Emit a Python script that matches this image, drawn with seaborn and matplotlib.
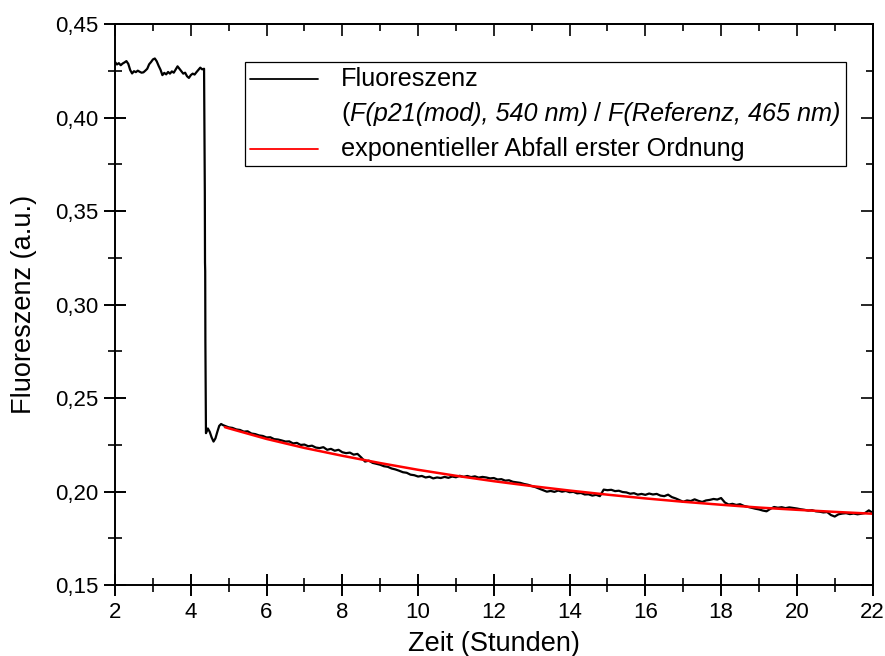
import numpy as np
import matplotlib
matplotlib.use("Agg")
import matplotlib.pyplot as plt
from matplotlib.lines import Line2D
from matplotlib.ticker import MultipleLocator, FuncFormatter
from matplotlib.offsetbox import (AnchoredOffsetbox, VPacker, HPacker,
                                  TextArea, DrawingArea)
import seaborn as sns

# Fluorescence trace before the drop (every 0.05 h from 2.00 to 4.35 h)
t_before = np.round(np.arange(2.0, 4.351, 0.05), 2)
f_before = [0.4298, 0.4285, 0.4292, 0.4281, 0.4290, 0.4296, 0.4303, 0.4288, 0.4255, 0.4237,
            0.4249, 0.4244, 0.4252, 0.4246, 0.4241, 0.4243, 0.4252, 0.4262, 0.4286, 0.4298,
            0.4312, 0.4317, 0.4302, 0.4278, 0.4257, 0.4228, 0.4240, 0.4232, 0.4245, 0.4236,
            0.4248, 0.4241, 0.4258, 0.4275, 0.4262, 0.4249, 0.4236, 0.4241, 0.4222, 0.4213,
            0.4228, 0.4236, 0.4231, 0.4244, 0.4256, 0.4268, 0.4259, 0.4262]

# The drop and the short settling phase
t_drop = [4.37, 4.375, 4.38, 4.385, 4.40, 4.45, 4.50, 4.55, 4.60, 4.65, 4.70, 4.75, 4.80, 4.85]
f_drop = [0.3600, 0.3225, 0.3180, 0.2800, 0.2313, 0.2338, 0.2320, 0.2290, 0.2268, 0.2285,
          0.2320, 0.2352, 0.2362, 0.2356]

# Slow decay phase (every 0.1 h from 4.9 to 22.0 h)
t_after = np.round(np.arange(4.9, 22.001, 0.1), 1)
f_after = [0.2352,
           0.2344, 0.2341, 0.2333, 0.2330, 0.2321, 0.2323, 0.2311, 0.2308, 0.2301, 0.2298,
           0.2290, 0.2291, 0.2281, 0.2279, 0.2274, 0.2268, 0.2269, 0.2258, 0.2261, 0.2250,
           0.2252, 0.2243, 0.2246, 0.2236, 0.2233, 0.2238, 0.2224, 0.2229, 0.2219, 0.2224,
           0.2211, 0.2206, 0.2209, 0.2198, 0.2202, 0.2183, 0.2161, 0.2166, 0.2154, 0.2149,
           0.2144, 0.2136, 0.2133, 0.2124, 0.2119, 0.2112, 0.2104, 0.2101, 0.2091, 0.2088,
           0.2081, 0.2084, 0.2076, 0.2080, 0.2071, 0.2076, 0.2073, 0.2079, 0.2074, 0.2081,
           0.2077, 0.2085, 0.2079, 0.2084, 0.2078, 0.2082, 0.2075, 0.2079, 0.2076, 0.2071,
           0.2073, 0.2065, 0.2067, 0.2059, 0.2061, 0.2053, 0.2050, 0.2047, 0.2041, 0.2037,
           0.2030, 0.2024, 0.2016, 0.2008, 0.2000, 0.2004, 0.1999, 0.2006, 0.2000, 0.2004,
           0.1997, 0.1999, 0.1991, 0.1993, 0.1985, 0.1986, 0.1979, 0.1983, 0.1976, 0.2011,
           0.2008, 0.2010, 0.2003, 0.2005, 0.1998, 0.1996, 0.1989, 0.1992, 0.1984, 0.1988,
           0.1983, 0.1990, 0.1985, 0.1988, 0.1979, 0.1976, 0.1984, 0.1971, 0.1964, 0.1955,
           0.1946, 0.1953, 0.1950, 0.1959, 0.1951, 0.1945, 0.1953, 0.1956, 0.1961, 0.1958,
           0.1966, 0.1942, 0.1931, 0.1935, 0.1929, 0.1933, 0.1924, 0.1919, 0.1914, 0.1909,
           0.1905, 0.1899, 0.1895, 0.1908, 0.1918, 0.1914, 0.1917, 0.1912, 0.1916, 0.1913,
           0.1910, 0.1906, 0.1903, 0.1899, 0.1901, 0.1895, 0.1893, 0.1889, 0.1891, 0.1875,
           0.1867, 0.1879, 0.1883, 0.1885, 0.1880, 0.1883, 0.1879, 0.1882, 0.1886, 0.1900,
           0.1887]

# First-order exponential decay fit
t_fit = [4.9, 5, 6, 7, 8, 9, 10, 11, 12, 13, 14, 15, 16, 17, 18, 19, 20, 21, 22]
f_fit = [0.2345, 0.2339, 0.2282, 0.2234, 0.2192, 0.2153, 0.2117, 0.2085, 0.2056, 0.2030,
         0.2006, 0.1984, 0.1964, 0.1946, 0.1930, 0.1915, 0.1903, 0.1892, 0.1882]

x_ticks = [2, 4, 6, 8, 10, 12, 14, 16, 18, 20, 22]
y_ticks = [0.15, 0.20, 0.25, 0.30, 0.35, 0.40, 0.45]

label_trace = "Fluoreszenz"
label_ratio_num = "F(p21(mod), 540 nm)"
label_ratio_den = "F(Referenz, 465 nm)"
label_fit = "exponentieller Abfall erster Ordnung"

sns.set_style("white")
plt.rcParams["font.family"] = ["Liberation Sans", "DejaVu Sans"]
plt.rcParams["text.color"] = "black"
plt.rcParams["axes.labelcolor"] = "black"

t_all = np.concatenate([t_before, t_drop, t_after])
f_all = np.concatenate([f_before, f_drop, f_after])

fig = plt.figure(figsize=(8.85, 6.56), dpi=100)
ax = fig.add_axes([0.130, 0.108, 0.856, 0.855])

sns.lineplot(x=t_all, y=f_all, ax=ax, color="black", lw=1.6, sort=False,
             estimator=None, legend=False)
sns.lineplot(x=t_fit, y=f_fit, ax=ax, color="#ff0000", lw=1.8, sort=False,
             estimator=None, legend=False)

ax.set_xlim(x_ticks[0], x_ticks[-1])
ax.set_ylim(y_ticks[0], y_ticks[-1])
ax.set_xticks(x_ticks)
ax.set_yticks(y_ticks)
ax.xaxis.set_minor_locator(MultipleLocator(1))
ax.yaxis.set_minor_locator(MultipleLocator(0.025))
ax.xaxis.set_major_formatter(FuncFormatter(lambda v, p: f"{v:.0f}"))
ax.yaxis.set_major_formatter(FuncFormatter(lambda v, p: f"{v:.2f}".replace(".", ",")))

for s in ax.spines.values():
    s.set_linewidth(1.4)
    s.set_color("black")

ax.tick_params(which="major", direction="inout", length=16.5, width=1.4,
               labelsize=16, colors="black", pad=4, top=False, right=False)
ax.tick_params(which="minor", direction="inout", length=9.5, width=1.4,
               top=False, right=False)
ax.tick_params(axis="x", which="both", bottom=True)
ax.tick_params(axis="y", which="both", left=True)

# Inward ticks on the top and right frame edges
secx = ax.secondary_xaxis("top")
secx.set_xticks(x_ticks)
secx.xaxis.set_minor_locator(MultipleLocator(1))
secx.tick_params(which="major", direction="in", length=8.6, width=1.4, labeltop=False)
secx.tick_params(which="minor", direction="in", length=4.7, width=1.4)
secx.spines["top"].set_linewidth(1.4)
secy = ax.secondary_yaxis("right")
secy.set_yticks(y_ticks)
secy.yaxis.set_minor_locator(MultipleLocator(0.025))
secy.tick_params(which="major", direction="in", length=8.6, width=1.4, labelright=False)
secy.tick_params(which="minor", direction="in", length=4.7, width=1.4)
secy.spines["right"].set_linewidth(1.4)

ax.set_xlabel("Zeit (Stunden)", fontsize=19.5, labelpad=6, color="black")
ax.set_ylabel("Fluoreszenz (a.u.)", fontsize=19.5, labelpad=13, color="black")

# Legend box: three rows, the middle one mixes upright and italic text
fs = 18.2
handle_w, handle_h = 49, 12


def handle(color):
    da = DrawingArea(handle_w, handle_h, 0, 0)
    if color is not None:
        da.add_artist(Line2D([0, handle_w], [handle_h / 2, handle_h / 2],
                             color=color, lw=1.3))
    return da


def text(s, style="normal"):
    return TextArea(s, textprops=dict(fontsize=fs, style=style, color="black"))


row1 = HPacker(children=[handle("black"), text(label_trace)], sep=16.5, align="center")
ratio = HPacker(children=[HPacker(children=[text("("), text(label_ratio_num, "italic")],
                                  sep=0, align="baseline"),
                          text("/"), text(label_ratio_den, "italic")],
                sep=5, align="baseline")
row2 = HPacker(children=[handle(None), ratio], sep=16.5, align="center")
row3 = HPacker(children=[handle("#ff0000"), text(label_fit)], sep=16.5, align="center")
rows = VPacker(children=[row1, row2, row3], sep=7.8, align="left")

box = AnchoredOffsetbox(loc="upper left", child=rows, pad=0.2, borderpad=0,
                        prop=dict(size=fs), frameon=True,
                        bbox_to_anchor=((245 - 115) / 758, (585 - 62) / 561),
                        bbox_transform=ax.transAxes)
box.patch.set_edgecolor("black")
box.patch.set_linewidth(0.9)
box.patch.set_facecolor("white")
box.patch.set_boxstyle("square", pad=0)
ax.add_artist(box)

fig.savefig("out.png", dpi=100)
